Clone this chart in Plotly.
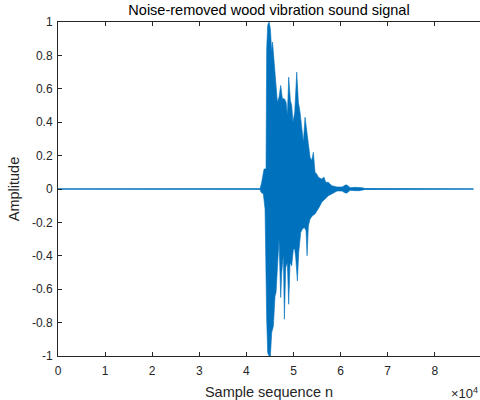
import plotly.graph_objects as go

# ---- data (sample index n, amplitude) ----
n_total = 88200  # signal length in samples

upper_n = [0, 42900, 43250, 43750, 44170, 44310, 44525, 44810, 45090, 45375, 45550,
           45940, 46225, 46580, 46930, 47285, 47640, 48065, 48420, 48700, 48985,
           49340, 49620, 49905, 50260, 50685, 51040, 51390, 51745, 52100, 52455,
           52805, 53160, 53515, 53870, 54220, 54575, 54930, 55285, 55990, 56490,
           56840, 57410, 58115, 58825, 59250, 60310, 60735, 61160, 61585, 62010,
           63070, 64000, 64560, 65195, 88200]
upper_amp = [0.0, 0.001, 0.04, 0.12, 0.12, 0.84, 0.98, 1.0, 0.96, 0.82, 0.88,
             0.75, 0.68, 0.52, 0.55, 0.62, 0.54, 0.54, 0.52, 0.44, 0.67,
             0.53, 0.50, 0.40, 0.46, 0.70, 0.52, 0.46, 0.37, 0.28, 0.43,
             0.34, 0.28, 0.19, 0.17, 0.22, 0.10, 0.09, 0.07, 0.06, 0.07,
             0.04, 0.04, 0.02, 0.015, 0.012, 0.012, 0.02, 0.025, 0.02, 0.008,
             0.01, 0.01, 0.008, 0.003, 0.0]

lower_n = [0, 42900, 43110, 43605, 43960, 44310, 44525, 44810, 45090, 45375, 45730,
           46080, 46295, 46580, 46930, 47285, 47500, 47850, 48065, 48345, 48700,
           48985, 49270, 49620, 49975, 50260, 50470, 50825, 51110, 51535, 51885,
           52310, 52665, 52880, 53160, 53515, 54010, 54575, 54930, 55640, 55990,
           56345, 56700, 57410, 58115, 58825, 59250, 60310, 60735, 61160, 61585,
           62010, 63070, 64000, 64560, 65195, 88200]
lower_amp = [0.0, -0.001, -0.02, -0.03, -0.12, -0.78, -0.98, -1.0, -1.0, -0.86, -0.82,
             -0.64, -0.62, -0.48, -0.30, -0.65, -0.50, -0.39, -0.78, -0.47, -0.44,
             -0.69, -0.44, -0.46, -0.36, -0.36, -0.41, -0.55, -0.38, -0.26, -0.24,
             -0.23, -0.25, -0.40, -0.22, -0.18, -0.16, -0.15, -0.14, -0.10, -0.08,
             -0.07, -0.06, -0.04, -0.03, -0.02, -0.012, -0.012, -0.02, -0.025, -0.02,
             -0.008, -0.01, -0.01, -0.008, -0.003, 0.0]

x_tick_vals = [0, 10000, 20000, 30000, 40000, 50000, 60000, 70000, 80000, 90000]
x_tick_text = ["0", "1", "2", "3", "4", "5", "6", "7", "8", "9"]
y_tick_vals = [-1, -0.8, -0.6, -0.4, -0.2, 0, 0.2, 0.4, 0.6, 0.8, 1]
y_tick_text = ["-1", "-0.8", "-0.6", "-0.4", "-0.2", "0", "0.2", "0.4", "0.6", "0.8", "1"]

LINE = "#0072BD"
AX = "#262626"
FONT = "Liberation Sans, Arial, sans-serif"

fig = go.Figure()
# waveform envelope as a filled polygon
fig.add_trace(go.Scatter(
    x=upper_n + lower_n[::-1],
    y=upper_amp + lower_amp[::-1],
    mode="lines", fill="toself", fillcolor=LINE,
    line=dict(color=LINE, width=0.6), hoverinfo="skip", showlegend=False))
# baseline of the signal
fig.add_trace(go.Scatter(
    x=[0, n_total], y=[0, 0], mode="lines",
    line=dict(color=LINE, width=0.9), showlegend=False))

fig.update_layout(
    width=480, height=400,
    margin=dict(l=58, r=0, t=22, b=44),
    paper_bgcolor="white", plot_bgcolor="white",
    font=dict(family=FONT, size=12, color=AX),
    title=dict(text="Noise-removed wood vibration sound signal",
               font=dict(family=FONT, size=14.5, color="#000000"),
               x=0.5, xref="paper", xanchor="center",
               y=1 - 10 / 400, yref="container", yanchor="middle"),
    annotations=[dict(text="×10<sup>4</sup>",
                      xref="paper", yref="paper",
                      x=1.0, y=0, xanchor="right", yanchor="middle",
                      yshift=-37, xshift=0, showarrow=False,
                      font=dict(family=FONT, size=13, color=AX))],
)
fig.update_xaxes(
    range=[0, 89600], tickvals=x_tick_vals, ticktext=x_tick_text,
    ticks="inside", ticklen=4, tickcolor=AX, showline=True, linecolor=AX,
    linewidth=1, mirror="ticks", showgrid=False, zeroline=False,
    title=dict(text="Sample sequence n", font=dict(family=FONT, size=14.5, color=AX),
               standoff=9),
    tickfont=dict(family=FONT, size=12, color=AX), ticklabelstandoff=4)
fig.update_yaxes(
    range=[-1, 1], tickvals=y_tick_vals, ticktext=y_tick_text,
    ticks="inside", ticklen=4, tickcolor=AX, showline=True, linecolor=AX,
    linewidth=1, mirror=False, showgrid=False, zeroline=False,
    title=dict(text="Amplitude", font=dict(family=FONT, size=14.5, color=AX),
               standoff=8),
    tickfont=dict(family=FONT, size=12, color=AX), ticklabelstandoff=2)

fig.write_html("out.html", config={"displayModeBar": False},
               post_script="document.body.style.margin='0';document.body.style.overflow='hidden';")
